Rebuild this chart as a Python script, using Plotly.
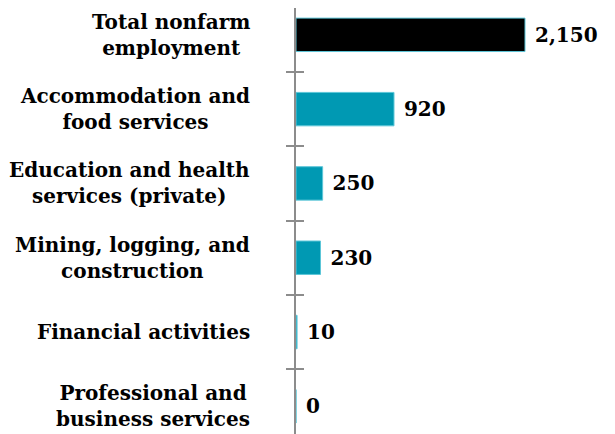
import plotly.graph_objects as go

categories = [
    "Total nonfarm<br>employment",
    "Accommodation and<br>food services",
    "Education and health<br>services (private)",
    "Mining, logging, and<br>construction",
    "Financial activities",
    "Professional and<br>business services",
]
values = [2150, 920, 250, 230, 10, 0]
value_labels = ["2,150", "920", "250", "230", "10", "0"]
bar_colors = ["#000000", "#0099B3", "#0099B3", "#0099B3", "#0099B3", "#0099B3"]

FONT = "DejaVu Serif"
W, H = 615, 434
ML = 288
yrange = [5.480, -0.361]

fig = go.Figure()
fig.add_trace(go.Bar(
    x=values, y=categories, orientation="h",
    marker=dict(color=bar_colors, line=dict(color="#5CC6D8", width=1)),
    width=0.45,
    text=value_labels, texttemplate=" %{text}", textposition="outside", cliponaxis=False,
    textfont=dict(family=FONT, size=20, color="#000000", weight="bold"),
    hoverinfo="skip", showlegend=False,
))
# invisible trace to register categories on the secondary axis (inner half of ticks)
fig.add_trace(go.Scatter(
    x=[0] * len(categories), y=categories, yaxis="y2", mode="markers",
    marker=dict(opacity=0), hoverinfo="skip", showlegend=False,
))

for cat in categories:
    fig.add_annotation(
        xref="paper", yref="y", x=(244 - ML) / (W - ML), y=cat,
        text=cat, showarrow=False, xanchor="right", yanchor="middle",
        align="center", font=dict(family=FONT, size=20, color="#000000", weight="bold"),
    )

fig.update_layout(
    width=W, height=H,
    margin=dict(l=ML, r=0, t=0, b=0),
    paper_bgcolor="white", plot_bgcolor="white",
    xaxis=dict(range=[0, 3070], visible=False, fixedrange=True),
    yaxis=dict(
        type="category", categoryorder="array", categoryarray=categories,
        range=yrange, showticklabels=False,
        showline=True, linecolor="#8C8C8C", linewidth=1.5,
        ticks="outside", ticklen=8, tickcolor="#8C8C8C", tickwidth=1.5,
        tickson="boundaries", showgrid=False, zeroline=False,
    ),
    yaxis2=dict(
        type="category", categoryorder="array", categoryarray=categories,
        range=yrange, overlaying="y", side="left", anchor="x",
        showticklabels=False, showline=False,
        ticks="inside", ticklen=8, tickcolor="#8C8C8C", tickwidth=1.5,
        tickson="boundaries", showgrid=False, zeroline=False,
    ),
    showlegend=False,
)

fig.write_html("out.html")
